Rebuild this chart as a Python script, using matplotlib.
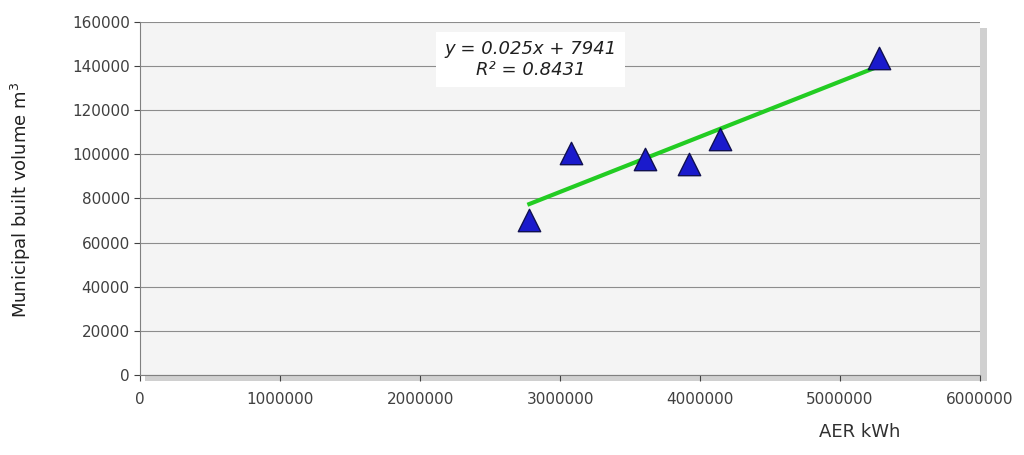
import matplotlib
matplotlib.use("Agg")
import matplotlib.pyplot as plt
import numpy as np
from matplotlib.patches import Rectangle

x = [2780000, 3080000, 3610000, 3920000, 4140000, 5280000]
y = [70000, 100500, 98000, 95500, 107000, 143500]
slope, intercept = 0.025, 7941
xticks = [0, 1000000, 2000000, 3000000, 4000000, 5000000, 6000000]
yticks = list(range(0, 160001, 20000))

fig = plt.figure(figsize=(10.24, 4.55), dpi=100)
ax = fig.add_axes([0.137, 0.176, 0.820, 0.776])
fig.patches.append(Rectangle((0.142, 0.162), 0.822, 0.776, transform=fig.transFigure,
                             facecolor="#d0d0d0", edgecolor="none", zorder=0))
ax.set_facecolor("#f4f4f4")
ax.set_zorder(1)
ax.set_xlim(0, 6000000)
ax.set_ylim(0, 160000)
ax.set_xticks(xticks)
ax.set_xticklabels([str(v) for v in xticks])
ax.set_yticks(yticks)
ax.set_yticklabels([str(v) for v in yticks])
ax.grid(axis="y", color="#8c8c8c", lw=0.8)
ax.set_axisbelow(True)
for s in ["top", "right"]:
    ax.spines[s].set_visible(False)
ax.spines["left"].set_color("#808080")
ax.spines["bottom"].set_color("#808080")
ax.tick_params(colors="#404040", labelsize=11, length=4)
ax.tick_params(axis="x", pad=8)

xl = np.array([min(x), max(x)])
ax.plot(xl, slope * xl + intercept, color="#22cc22", lw=3, zorder=3)
ax.scatter(x, y, marker="^", s=260, color="#1a1acc", edgecolor="#101050", lw=1, zorder=4)

ax.text(2790000, 143000, "y = 0.025x + 7941\nR² = 0.8431", ha="center", va="center",
        fontsize=13, style="italic", color="#202020", linespacing=1.2,
        bbox=dict(facecolor="white", edgecolor="none", pad=6))

fig.text(0.84, 0.04, "AER kWh", ha="center", fontsize=13, color="#303030")
fig.text(0.02, 0.56, "Municipal built volume m$^3$", rotation=90, ha="center", va="center",
         fontsize=13, color="#202020")
fig.savefig("out.png", dpi=100)
